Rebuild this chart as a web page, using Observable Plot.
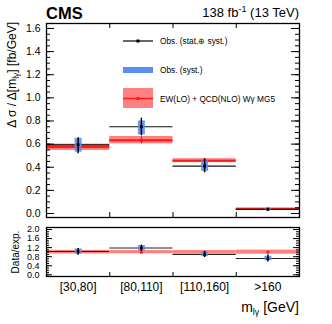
<!DOCTYPE html>
<html><head><meta charset="utf-8">
<script src="https://cdn.jsdelivr.net/npm/d3@7"></script>
<script src="https://cdn.jsdelivr.net/npm/@observablehq/plot@0.6"></script>
<style>
body{margin:0;background:#fff;}
#wrap{position:relative;width:332px;height:324px;font-family:"Liberation Sans",Arial,sans-serif;color:#000;}
#wrap > *{position:absolute;left:0;}
</style></head><body><div id="wrap"></div>
<script>
// ---- data ----
const bins = ["[30,80]", "[80,110]", "[110,160]", ">160"];
const obs       = [0.594, 0.750, 0.410, 0.035];
const obsTotLo  = [0.517, 0.672, 0.352, 0.026];
const obsTotHi  = [0.655, 0.824, 0.473, 0.044];
const obsSystLo = [0.530, 0.680, 0.365, 0.030];
const obsSystHi = [0.650, 0.800, 0.455, 0.040];
const pred      = [0.574, 0.634, 0.456, 0.040];
const predLo    = [0.545, 0.602, 0.440, 0.035];
const predHi    = [0.600, 0.666, 0.474, 0.046];
const ratio       = [1.03, 1.18, 0.90, 0.72];
const ratioTotLo  = [0.86, 1.02, 0.76, 0.57];
const ratioTotHi  = [1.16, 1.31, 1.03, 0.87];
const ratioSystLo = [0.92, 1.07, 0.80, 0.62];
const ratioSystHi = [1.14, 1.29, 1.00, 0.82];
const ratioPredLo = [0.92, 0.93, 0.93, 0.91];
const ratioPredHi = [1.08, 1.07, 1.07, 1.09];
const mainTicks = [0, 0.2, 0.4, 0.6, 0.8, 1.0, 1.2, 1.4, 1.6];
const mainMinor = d3.range(0, 1.6001, 0.05);
const ratioTicks = [0, 0.4, 0.8, 1.2, 1.6, 2.0];
const ratioMinor = d3.range(0, 2.0001, 0.1);
const binEdges = [1, 2, 3];

const rows = bins.map((b, i) => ({
  b, x1: i, x2: i + 1, xc: i + 0.5,
  o: obs[i], tLo: obsTotLo[i], tHi: obsTotHi[i], sLo: obsSystLo[i], sHi: obsSystHi[i],
  p: pred[i], pLo: predLo[i], pHi: predHi[i],
  r: ratio[i], rtLo: ratioTotLo[i], rtHi: ratioTotHi[i], rsLo: ratioSystLo[i], rsHi: ratioSystHi[i],
  rpLo: ratioPredLo[i], rpHi: ratioPredHi[i]
}));

const W = 332, ML = 46, MR = 33;
const FW = W - ML - MR;
const RED = "#ff1a1a", BAND = "#ff8080", BLUE = "#5b8ef0";
const wrap = document.getElementById("wrap");

// ---- main panel ----
const mainH = 220, mT = 23, mB = 3;
const FH = mainH - mT - mB;
const main = Plot.plot({
  width: W, height: mainH,
  marginLeft: ML, marginRight: MR, marginTop: mT, marginBottom: mB,
  style: {fontFamily: "Liberation Sans, Arial, sans-serif", fontSize: "10.5px", color: "#000", background: "transparent"},
  x: {domain: [0, 4], axis: null},
  y: {domain: [-0.0346, 1.643], axis: null},
  marks: [
    Plot.rect(rows, {x1: "x1", x2: "x2", y1: "pLo", y2: "pHi", fill: BAND}),
    Plot.ruleY(rows, {y: "p", x1: "x1", x2: "x2", stroke: RED, strokeWidth: 2}),
    Plot.ruleY(rows, {y: "o", x1: "x1", x2: "x2", stroke: "#111", strokeWidth: 1.2}),
    Plot.ruleX(rows, {x: "xc", y1: "pLo", y2: "pHi", stroke: RED, strokeWidth: 1}),
    Plot.dot(rows, {x: "xc", y: "p", symbol: "square", r: 1.7, fill: RED}),
    Plot.ruleX(rows, {x: "xc", y1: "sLo", y2: "sHi", stroke: BLUE, strokeWidth: 7, strokeOpacity: 0.9}),
    Plot.ruleX(rows, {x: "xc", y1: "tLo", y2: "tHi", stroke: "#000", strokeWidth: 1.5}),
    Plot.dot(rows, {x: "xc", y: "o", symbol: "square", r: 1.6, fill: "#000"}),
    Plot.tickY(mainTicks, {y: d => d, insetRight: FW - 8, stroke: "#000"}),
    Plot.tickY(mainTicks, {y: d => d, insetLeft: FW - 8, stroke: "#000"}),
    Plot.tickY(mainMinor, {y: d => d, insetRight: FW - 4, stroke: "#000"}),
    Plot.tickY(mainMinor, {y: d => d, insetLeft: FW - 4, stroke: "#000"}),
    Plot.tickX(binEdges, {x: d => d, insetTop: FH - 5, stroke: "#000"}),
    Plot.tickX(binEdges, {x: d => d, insetBottom: FH - 5, stroke: "#000"}),
    Plot.axisY(mainTicks, {tickSize: 0, tickPadding: 6, tickFormat: d3.format(".1f"), fontSize: 10.5}),
    Plot.frame({stroke: "#000", strokeWidth: 1.3})
  ]
});
main.style.top = "0px";
wrap.appendChild(main);

// ---- ratio panel ----
const rTop = 220, rH = 104, rmT = 7, rmB = 48;
const RFH = rH - rmT - rmB;
const ratioPlot = Plot.plot({
  width: W, height: rH,
  marginLeft: ML, marginRight: MR, marginTop: rmT, marginBottom: rmB,
  style: {fontFamily: "Liberation Sans, Arial, sans-serif", fontSize: "9px", color: "#000", background: "transparent"},
  x: {domain: [0, 4], axis: null},
  y: {domain: [-0.075, 2.088], axis: null},
  marks: [
    Plot.rect(rows, {x1: "x1", x2: "x2", y1: "rpLo", y2: "rpHi", fill: BAND}),
    Plot.ruleY(rows, {y: "r", x1: "x1", x2: "x2", stroke: "#222", strokeWidth: 1.1}),
    Plot.dot(rows, {x: "xc", y: () => 1, symbol: "square", r: 1.6, fill: RED}),
    Plot.ruleX(rows, {x: "xc", y1: "rsLo", y2: "rsHi", stroke: BLUE, strokeWidth: 7, strokeOpacity: 0.9}),
    Plot.ruleX(rows, {x: "xc", y1: "rtLo", y2: "rtHi", stroke: "#000", strokeWidth: 1.5}),
    Plot.dot(rows, {x: "xc", y: "r", symbol: "square", r: 1.5, fill: "#000"}),
    Plot.tickY(ratioTicks, {y: d => d, insetRight: FW - 6, stroke: "#000"}),
    Plot.tickY(ratioTicks, {y: d => d, insetLeft: FW - 6, stroke: "#000"}),
    Plot.tickY(ratioMinor, {y: d => d, insetRight: FW - 3, stroke: "#000"}),
    Plot.tickY(ratioMinor, {y: d => d, insetLeft: FW - 3, stroke: "#000"}),
    Plot.tickX(binEdges, {x: d => d, insetTop: RFH - 4, stroke: "#000"}),
    Plot.axisY(ratioTicks, {tickSize: 0, tickPadding: 7, tickFormat: d3.format(".1f"), fontSize: 9}),
    Plot.axisX(rows.map(d => d.xc), {tickSize: 0, tickPadding: 6, tickFormat: (d) => bins[Math.floor(d)], fontSize: 12}),
    Plot.frame({stroke: "#000", strokeWidth: 1.3})
  ]
});
ratioPlot.style.top = rTop + "px";
wrap.appendChild(ratioPlot);

// ---- texts, titles and legend ----
const ns = "http://www.w3.org/2000/svg";
const ov = document.createElementNS(ns, "svg");
ov.setAttribute("width", W); ov.setAttribute("height", 324);
ov.style.top = "0px"; ov.style.pointerEvents = "none";
ov.style.fontFamily = "Liberation Sans, Arial, sans-serif";
ov.innerHTML = `
  <text x="46" y="18.5" font-size="16.5" font-weight="bold">CMS</text>
  <text x="299" y="17" font-size="13" text-anchor="end">138 fb<tspan dy="-5" font-size="9">-1</tspan><tspan dy="5"> (13 TeV)</tspan></text>
  <text transform="translate(16,22) rotate(-90)" font-size="12" text-anchor="end">Δ σ / Δ[m<tspan dy="3" font-size="8.5">lγ</tspan><tspan dy="-3">] [fb/GeV]</tspan></text>
  <text transform="translate(19,252) rotate(-90)" font-size="10" text-anchor="middle">Data/exp.</text>
  <text x="299" y="312" font-size="14" text-anchor="end">m<tspan dy="3" font-size="9">lγ</tspan><tspan dy="-3"> [GeV]</tspan></text>
  <line x1="123" x2="153" y1="41" y2="41" stroke="#000" stroke-width="1.2"/>
  <rect x="136.5" y="39.5" width="3" height="3" fill="#000"/>
  <text x="160" y="44" font-size="8.3">Obs. (stat.⊕ syst.)</text>
  <rect x="123" y="67" width="30" height="6" fill="${BLUE}"/>
  <text x="160" y="73" font-size="8.3">Obs. (syst.)</text>
  <rect x="123" y="88" width="30" height="20" fill="${BAND}"/>
  <line x1="123" x2="153" y1="98.5" y2="98.5" stroke="${RED}" stroke-width="1.5"/>
  <rect x="136.5" y="97" width="3" height="3" fill="${RED}"/>
  <text x="160" y="101.5" font-size="8.3">EW(LO) + QCD(NLO) Wγ MG5</text>
`;
wrap.appendChild(ov);
</script>
</body></html>
